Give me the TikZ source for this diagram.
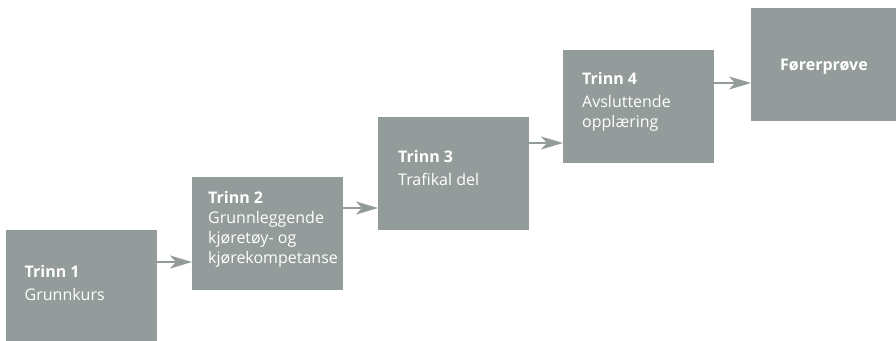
\documentclass[tikz,border=0pt]{standalone}
\usepackage{fontspec}
\setmainfont{Open Sans}
\usetikzlibrary{arrows.meta,calc}
\definecolor{boxgray}{RGB}{148,155,155}
\begin{document}
\begin{tikzpicture}[x=1pt,y=-1pt,
  box/.style={fill=boxgray, draw=none, anchor=north west, inner sep=0pt,
    minimum width=151pt, minimum height=113pt},
  lbl/.style={anchor=base west, inner sep=0pt, text=white,
    font=\fontsize{16}{19}\selectfont},
  hd/.style={lbl, font=\fontsize{16}{19}\selectfont\bfseries},
  arr/.style={draw=boxgray, line width=2.6pt,
    -{Stealth[length=22pt,width=13pt,inset=6pt]}}]
\useasboundingbox (0,0) rectangle (896,340);
\node[box] (b1) at (6,230) {};
\node[box] (b2) at (192,177) {};
\node[box] (b3) at (378,117) {};
\node[box] (b4) at (563,50) {};
\node[box] (b5) at (751,8) {};
% texts
\node[hd]  (t1a) at (24.5,277) {Trinn 1};
\node[lbl] (t1b) at (24.5,300) {Grunnkurs};
\node[hd]  (t2a) at (208,203.3) {Trinn 2};
\node[lbl] (t2b) at (208,223.3) {Grunnleggende};
\node[lbl] (t2c) at (208,243.3) {kjøretøy- og};
\node[lbl] (t2d) at (208,263.3) {kjørekompetanse};
\node[hd]  (t3a) at (398,162.3) {Trinn 3};
\node[lbl] (t3b) at (398,185) {Trafikal del};
\node[hd]  (t4a) at (582,84.3) {Trinn 4};
\node[lbl] (t4b) at (582,107) {Avsluttende};
\node[lbl] (t4c) at (582,127) {opplæring};
\node[hd]  (t5a) at (780,70) {Førerprøve};
% arrows
\draw[arr] ($(b1.north east)+(0,32)$) -- ($(b2.north west)+(0,85)$);
\draw[arr] ($(b2.north east)+(0,31)$) -- ($(b3.north west)+(0,91)$);
\draw[arr] ($(b3.north east)+(0,26)$) -- ($(b4.north west)+(0,93)$);
\draw[arr] ($(b4.north east)+(0,33)$) -- ($(b5.north west)+(0,75)$);
\end{tikzpicture}
\end{document}
